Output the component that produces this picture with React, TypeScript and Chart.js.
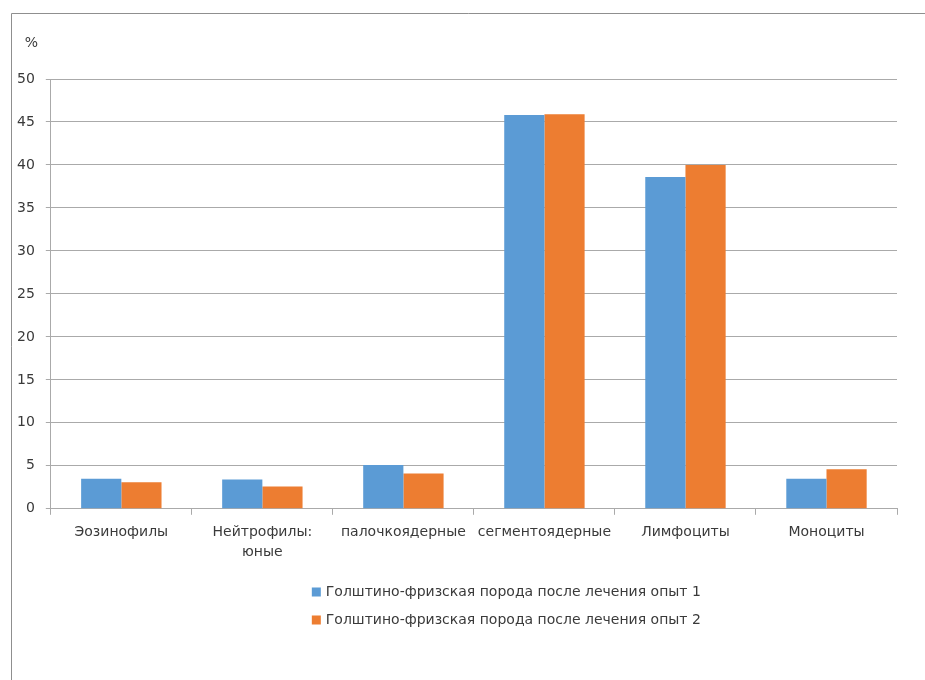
import React, { useEffect, useRef } from "react";
import { Chart, registerables } from "chart.js";

Chart.register(...registerables);

const categories: (string | string[])[] = [
  "Эозинофилы",
  ["Нейтрофилы:", "юные"],
  "палочкоядерные",
  "сегментоядерные",
  "Лимфоциты",
  "Моноциты",
];
const seriesNames = [
  "Голштино-фризская порода после лечения опыт 1",
  "Голштино-фризская порода после лечения опыт 2",
];
const series1 = [3.5, 3.4, 5.1, 45.8, 38.6, 3.5];
const series2 = [3.1, 2.6, 4.1, 45.9, 40.0, 4.6];
const yTicks = [0, 5, 10, 15, 20, 25, 30, 35, 40, 45, 50];
const unitLabel = "%";

const FONT = "'DejaVu Sans', sans-serif";
const TEXT = "#3a3a3a";
const GRID = "#aaaaaa";

const framePlugin = {
  id: "frame",
  beforeDraw(chart: any) {
    const ctx = chart.ctx;
    ctx.save();
    ctx.strokeStyle = "#8f8f8f";
    ctx.lineWidth = 1;
    ctx.beginPath();
    ctx.moveTo(11.5, chart.height);
    ctx.lineTo(11.5, 13.5);
    ctx.lineTo(chart.width, 13.5);
    ctx.stroke();
    ctx.restore();
  },
  afterDraw(chart: any) {
    const ctx = chart.ctx;
    const area = chart.chartArea;
    ctx.save();
    ctx.fillStyle = TEXT;
    ctx.font = `14px ${FONT}`;
    ctx.textBaseline = "middle";
    ctx.textAlign = "left";
    ctx.fillText(unitLabel, area.left - 26, area.top - 36);
    // legend
    const ds = chart.data.datasets;
    const x0 = area.left + 261;
    ds.forEach((d: any, i: number) => {
      const y = chart.height - 88 + i * 28;
      ctx.fillStyle = d.backgroundColor;
      ctx.fillRect(x0, y - 4.5, 9, 9);
      ctx.fillStyle = TEXT;
      ctx.fillText(d.label, x0 + 14, y);
    });
    ctx.restore();
  },
};

export default function App() {
  const ref = useRef<HTMLCanvasElement>(null);
  useEffect(() => {
    if (!ref.current) return;
    const chart = new Chart(ref.current, {
      type: "bar",
      data: {
        labels: categories,
        datasets: [
          { label: seriesNames[0], data: series1, backgroundColor: "#5B9BD5" },
          { label: seriesNames[1], data: series2, backgroundColor: "#ED7D31" },
        ],
      },
      plugins: [framePlugin],
      options: {
        animation: false,
        responsive: false,
        maintainAspectRatio: false,
        layout: { padding: { top: 79, right: 28, bottom: 110, left: 6 } },
        plugins: {
          legend: { display: false },
          tooltip: { enabled: false },
        },
        datasets: {
          bar: { categoryPercentage: 0.57, barPercentage: 1 },
        },
        scales: {
          x: {
            grid: {
              offset: true,
              drawOnChartArea: false,
              drawTicks: true,
              tickLength: 6,
              color: GRID,
            },
            border: { color: GRID },
            ticks: {
              color: TEXT,
              font: { family: FONT, size: 14, lineHeight: 1.4 },
              padding: 8,
              maxRotation: 0,
              autoSkip: false,
            },
          },
          y: {
            min: 0,
            max: 50,
            afterBuildTicks(scale: any) {
              scale.ticks = yTicks.map((v) => ({ value: v }));
            },
            grid: { color: GRID, tickLength: 5 },
            border: { color: GRID },
            ticks: {
              color: TEXT,
              font: { family: FONT, size: 14 },
              padding: 11,
            },
          },
        },
      },
    });
    return () => chart.destroy();
  }, []);
  return (
    <div style={{ position: "fixed", left: 0, top: 0, width: 925, height: 680, background: "#fff" }}>
      <canvas ref={ref} width={925} height={680} style={{ width: 925, height: 680 }} />
    </div>
  );
}
